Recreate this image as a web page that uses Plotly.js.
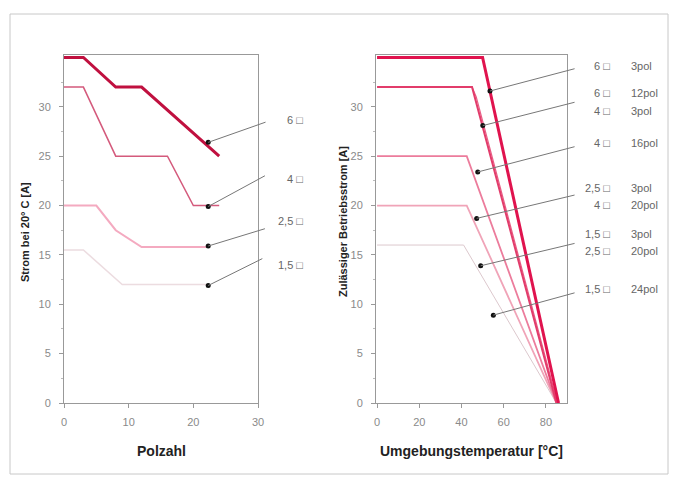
<!DOCTYPE html>
<html>
<head>
<meta charset="utf-8">
<script src="https://cdn.plot.ly/plotly-3.0.1.min.js"></script>
<style>html,body{margin:0;padding:0;background:#fff;}#chart{width:678px;height:483px;}</style>
</head>
<body>
<div id="chart"></div>
<script>
// ---------- Left chart: Strom bei 20 °C vs Polzahl ----------
const pol6  = [0, 3, 8, 12, 24];
const amp6  = [35, 35, 32, 32, 25];
const pol4  = [0, 3, 8, 16, 20, 24];
const amp4  = [32, 32, 25, 25, 20, 20];
const pol25 = [0, 5, 8, 12, 22];
const amp25 = [20, 20, 17.5, 15.8, 15.8];
const pol15 = [0, 3, 9, 22];
const amp15 = [15.5, 15.5, 12, 12];

const leftMarkX = [22.3, 22.3, 22.3, 22.3];
const leftMarkY = [26.4, 19.9, 15.9, 11.9];
const leftTailX = [31.4, 31.3, 31.3, 30.9];
const leftTailY = [28.5, 23.1, 17.7, 14.7];
const leftLabels = ["6 \u25A1", "4 \u25A1", "2,5 \u25A1", "1,5 \u25A1"];
const leftLabelY = [28.7, 22.7, 18.4, 14.0];

// ---------- Right chart: Zulässiger Betriebsstrom vs Umgebungstemperatur ----------
const tempA = [0, 50, 86];   const ampA = [35, 35, 0];
const tempB = [0, 45, 85];   const ampB = [32, 32, 0];
const tempC = [45, 47, 85.5]; const ampC = [32, 31, 0];
const tempD = [0, 42.5, 85]; const ampD = [25, 25, 0];
const tempE = [0, 42.5, 85]; const ampE = [20, 20, 0];
const tempF = [0, 41, 85];   const ampF = [16, 16, 0];

const rightMarkX = [53.5, 50.1, 47.7, 47.2, 49.1, 55.1];
const rightMarkY = [31.6, 28.1, 23.4, 18.7, 13.9, 8.9];
const rightTailX = [94.3, 94.3, 94.3, 94.3, 94.3, 94.3];
const rightTailY = [33.9, 30.5, 26.0, 21.1, 16.2, 11.2];
const rightSize = ["6 \u25A1", "6 \u25A1", "4 \u25A1", "4 \u25A1", "2,5 \u25A1", "4 \u25A1", "1,5 \u25A1", "2,5 \u25A1", "1,5 \u25A1"];
const rightPol  = ["3pol", "12pol", "3pol", "16pol", "3pol", "20pol", "3pol", "20pol", "24pol"];
const rightLabelY = [34.1, 31.4, 29.6, 26.3, 21.8, 20.1, 17.1, 15.4, 11.5];

const xTicksL = [0, 10, 20, 30];
const xTicksR = [0, 20, 40, 60, 80];
const yTicks = [0, 5, 10, 15, 20, 25, 30];
const yMinor = [2.5, 7.5, 12.5, 17.5, 22.5, 27.5, 32.5];

// ---------- geometry ----------
const W = 678, H = 483;
const L = {x0: 64, x1: 258, r: [0, 30]};
const R = {x0: 376, x1: 567, r: [-0.5, 90]};
const Y = {top: 55, bot: 403, r: [0, 35.25]};
const pxXL = (L.x1 - L.x0) / (L.r[1] - L.r[0]);
const pxXR = (R.x1 - R.x0) / (R.r[1] - R.r[0]);
const pxY = (Y.bot - Y.top) / (Y.r[1] - Y.r[0]);

const FONT = "Liberation Sans, Arial, sans-serif";

function line(x, y, color, width, xa, ya) {
  return {x, y, xaxis: xa, yaxis: ya, type: 'scatter', mode: 'lines',
          line: {color, width}, hoverinfo: 'skip'};
}

const traces = [
  line(pol15, amp15, '#ecdce0', 1.5, 'x', 'y'),
  line(pol25, amp25, '#f4aac0', 2, 'x', 'y'),
  line(pol4, amp4, '#d45a7c', 1.5, 'x', 'y'),
  line(pol6, amp6, '#c0103f', 3, 'x', 'y'),
  {x: leftMarkX, y: leftMarkY, xaxis: 'x', yaxis: 'y', type: 'scatter', mode: 'markers',
   marker: {color: '#111', size: 5}, hoverinfo: 'skip'},

  line(tempF, ampF, '#dcc8cd', 1, 'x2', 'y2'),
  line(tempE, ampE, '#f0a4b8', 1.8, 'x2', 'y2'),
  line(tempD, ampD, '#ec7c9c', 1.8, 'x2', 'y2'),
  line(tempC, ampC, '#ea5f86', 1.2, 'x2', 'y2'),
  line(tempB, ampB, '#e23c6b', 2, 'x2', 'y2'),
  line(tempA, ampA, '#e0134e', 3, 'x2', 'y2'),
  {x: rightMarkX, y: rightMarkY, xaxis: 'x2', yaxis: 'y2', type: 'scatter', mode: 'markers',
   marker: {color: '#111', size: 5}, hoverinfo: 'skip'}
];

const annotations = [];
// leader lines (arrow only)
for (let i = 0; i < leftMarkX.length; i++) {
  annotations.push({x: leftMarkX[i], y: leftMarkY[i], xref: 'x', yref: 'y', text: '',
    showarrow: true, arrowhead: 0, arrowwidth: 1, arrowcolor: '#777', standoff: 0,
    ax: (leftTailX[i] - leftMarkX[i]) * pxXL, ay: -(leftTailY[i] - leftMarkY[i]) * pxY});
}
for (let i = 0; i < rightMarkX.length; i++) {
  annotations.push({x: rightMarkX[i], y: rightMarkY[i], xref: 'x2', yref: 'y2', text: '',
    showarrow: true, arrowhead: 0, arrowwidth: 1, arrowcolor: '#777', standoff: 0,
    ax: (rightTailX[i] - rightMarkX[i]) * pxXR, ay: -(rightTailY[i] - rightMarkY[i]) * pxY});
}
// labels
leftLabels.forEach((t, i) => annotations.push({x: 305 / W, xref: 'paper', y: leftLabelY[i], yref: 'y',
  text: t, showarrow: false, xanchor: 'right', yanchor: 'middle', font: {family: FONT, size: 11, color: '#666'}}));
rightSize.forEach((t, i) => annotations.push({x: 612 / W, xref: 'paper', y: rightLabelY[i], yref: 'y2',
  text: t, showarrow: false, xanchor: 'right', yanchor: 'middle', font: {family: FONT, size: 11, color: '#666'}}));
rightPol.forEach((t, i) => annotations.push({x: 629 / W, xref: 'paper', y: rightLabelY[i], yref: 'y2',
  text: t, showarrow: false, xanchor: 'left', yanchor: 'middle', font: {family: FONT, size: 11, color: '#666'}}));
// axis titles
const titleFontY = {family: FONT, size: 11, color: '#222', weight: 'bold'};
const titleFontX = {family: FONT, size: 14, color: '#222', weight: 'bold'};
annotations.push({x: 25 / W, y: 1 - 232 / H, xref: 'paper', yref: 'paper', text: 'Strom bei 20\u00B0 C [A]',
  textangle: -90, showarrow: false, xanchor: 'center', yanchor: 'middle', font: titleFontY});
annotations.push({x: 343 / W, y: 1 - 222 / H, xref: 'paper', yref: 'paper', text: 'Zul\u00E4ssiger Betriebsstrom [A]',
  textangle: -90, showarrow: false, xanchor: 'center', yanchor: 'middle', font: titleFontY});
annotations.push({x: 161 / W, y: 1 - 451 / H, xref: 'paper', yref: 'paper', text: 'Polzahl',
  showarrow: false, xanchor: 'center', yanchor: 'middle', font: titleFontX});
annotations.push({x: 471 / W, y: 1 - 451 / H, xref: 'paper', yref: 'paper', text: 'Umgebungstemperatur [\u00B0C]',
  showarrow: false, xanchor: 'center', yanchor: 'middle', font: titleFontX});

function xAxis(d, range, ticks, anchor) {
  return {domain: [d.x0 / W, d.x1 / W], range: range, tickmode: 'array', tickvals: ticks,
    ticks: 'outside', ticklen: 4, tickcolor: '#999', showline: true, linecolor: '#999', linewidth: 1,
    mirror: true, showgrid: false, zeroline: false, anchor: anchor, ticklabelstandoff: 5,
    tickfont: {family: FONT, size: 11, color: '#8a8a8a'}, fixedrange: true};
}
function yAxis(anchor) {
  return {domain: [(H - Y.bot) / H, (H - Y.top) / H], range: Y.r, tickmode: 'array', tickvals: yTicks,
    ticks: 'outside', ticklen: 4, tickcolor: '#999', showline: true, linecolor: '#999', linewidth: 1,
    mirror: true, showgrid: false, zeroline: false, anchor: anchor, ticklabelstandoff: 6,
    minor: {tickmode: 'array', tickvals: yMinor, ticks: 'outside', ticklen: 2, tickcolor: '#bbb'},
    tickfont: {family: FONT, size: 11, color: '#8a8a8a'}, fixedrange: true};
}

const layout = {
  width: W, height: H, margin: {l: 0, r: 0, t: 0, b: 0},
  paper_bgcolor: '#ffffff', plot_bgcolor: '#ffffff', showlegend: false,
  xaxis: xAxis(L, L.r, xTicksL, 'y'),
  yaxis: yAxis('x'),
  xaxis2: xAxis(R, R.r, xTicksR, 'y2'),
  yaxis2: yAxis('x2'),
  annotations: annotations,
  shapes: [{type: 'rect', xref: 'paper', yref: 'paper', x0: 10 / W, x1: 668 / W,
            y0: 1 - 474 / H, y1: 1 - 14 / H, line: {color: '#c8c8c8', width: 1}}]
};

Plotly.newPlot('chart', traces, layout, {staticPlot: true, displayModeBar: false});
</script>
</body>
</html>
